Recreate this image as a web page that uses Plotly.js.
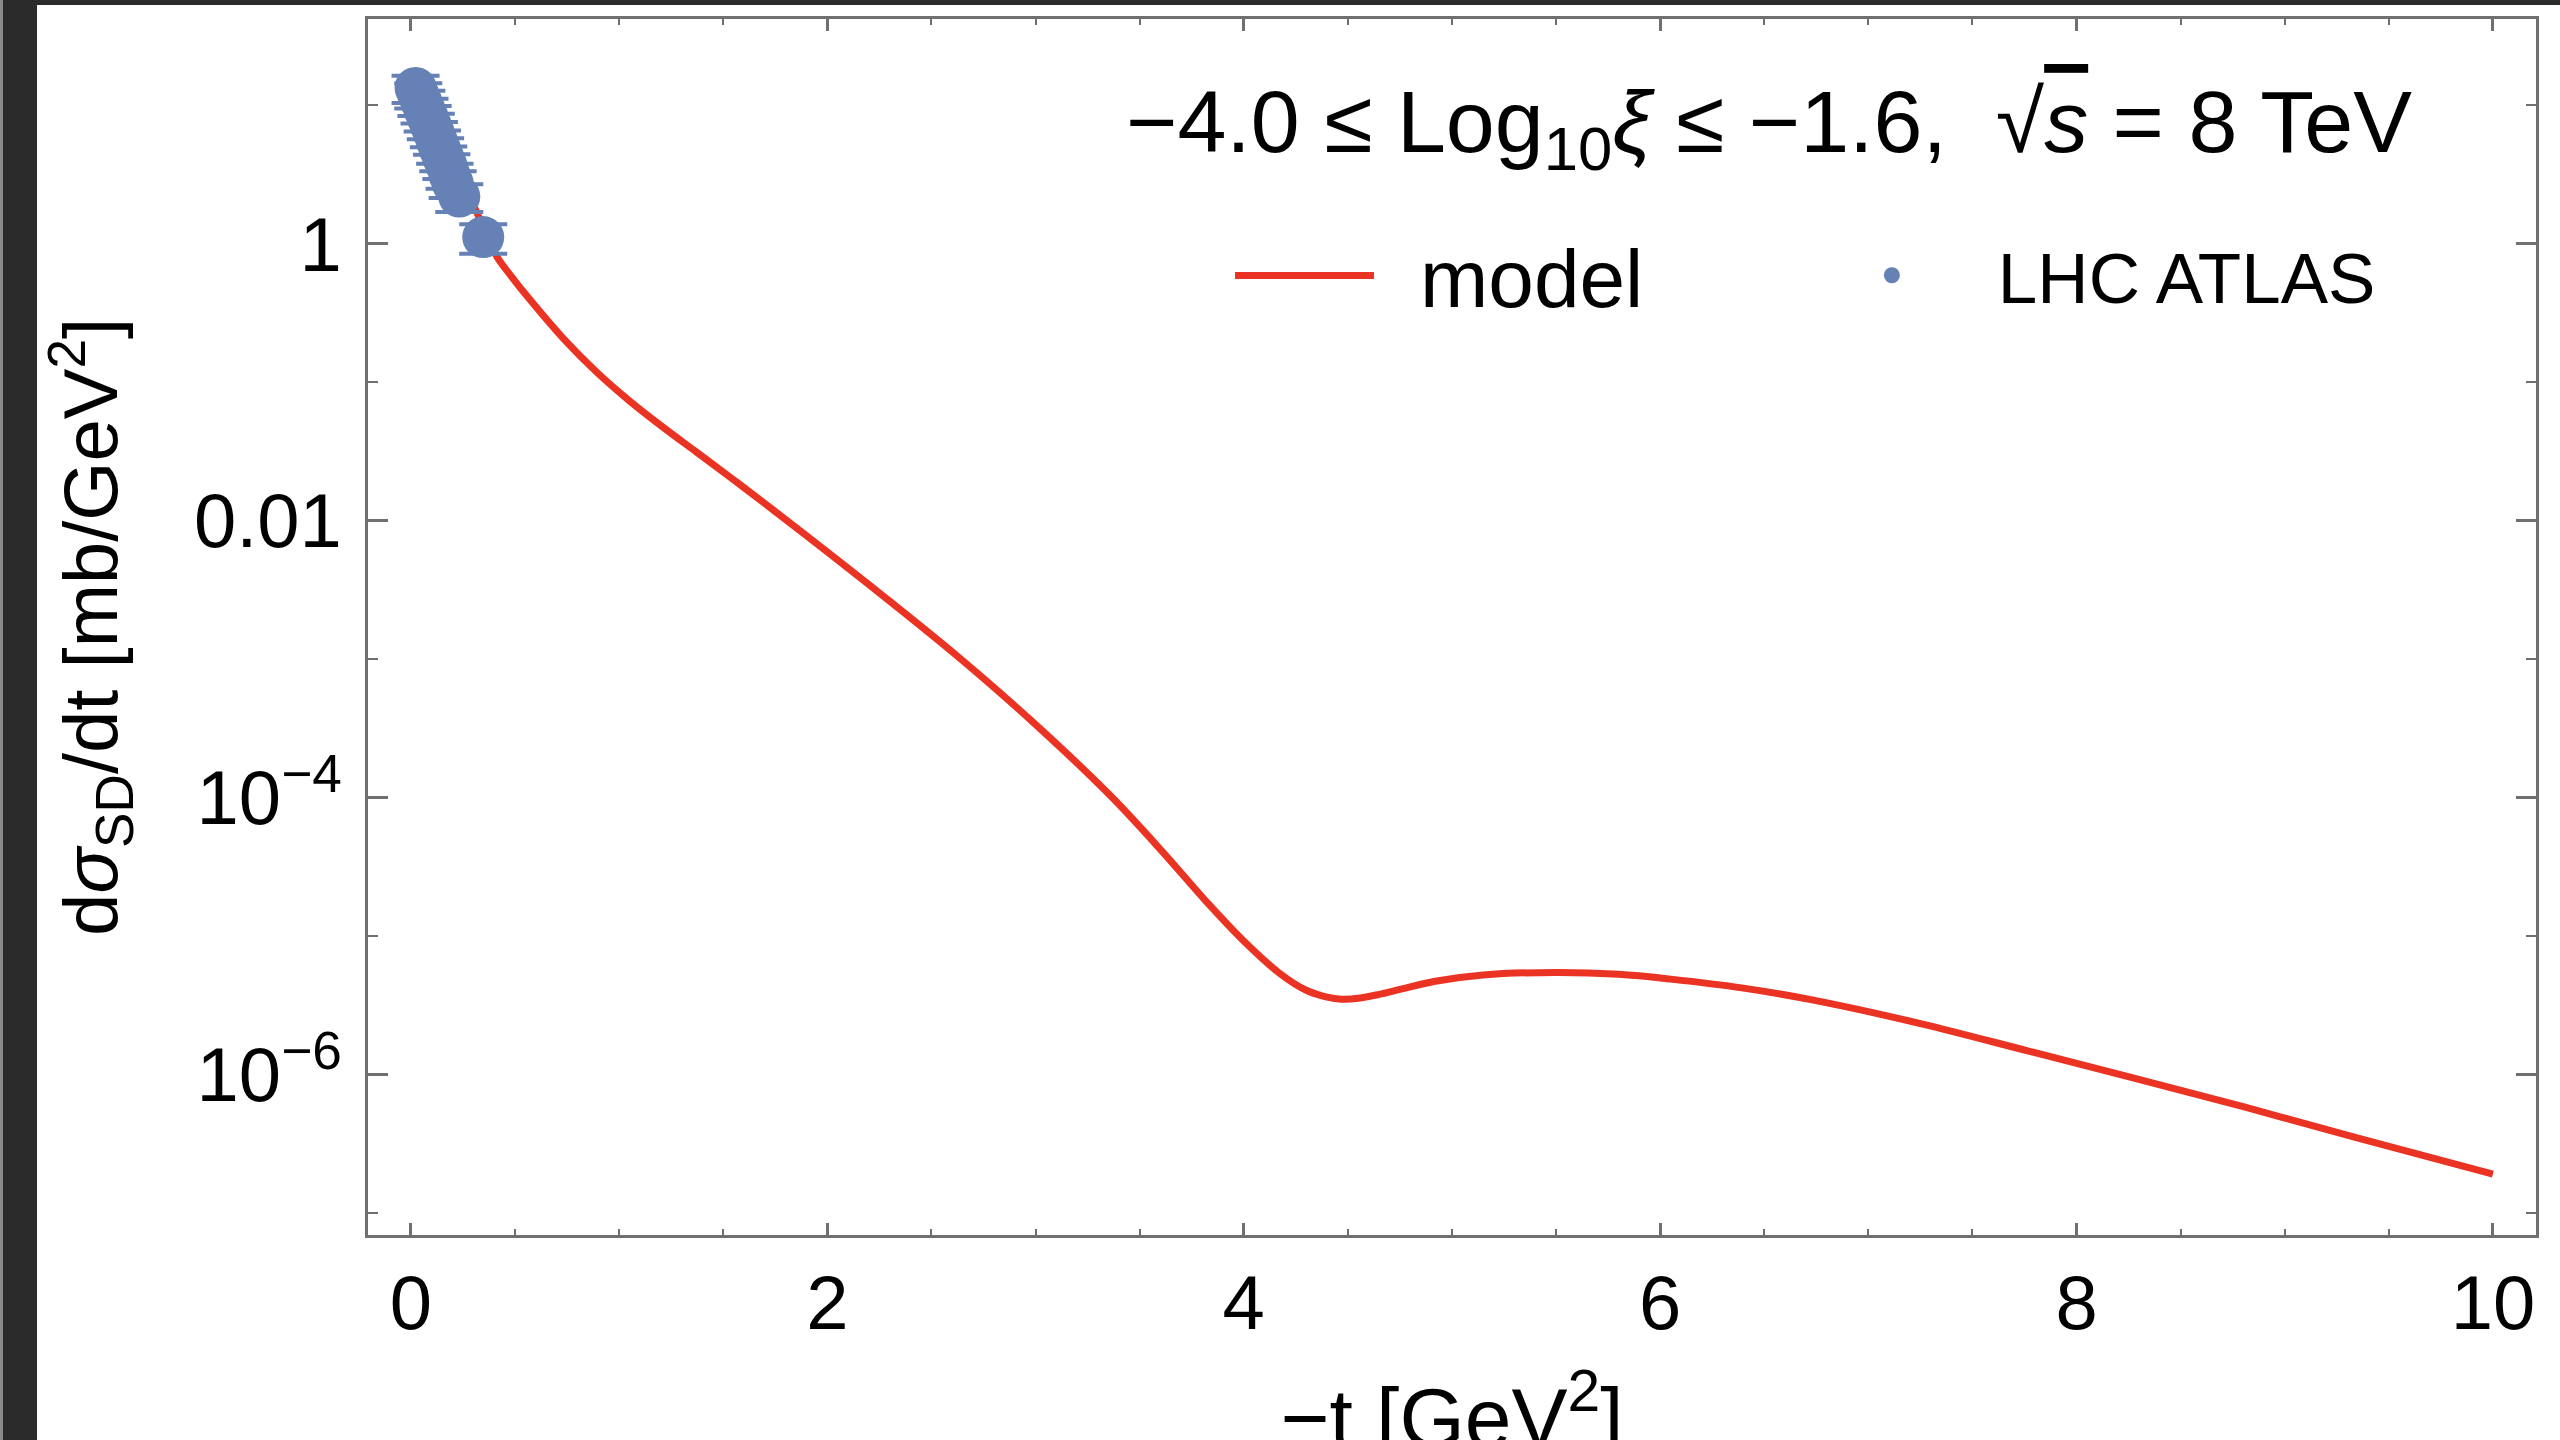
<!DOCTYPE html>
<html>
<head>
<meta charset="utf-8">
<script src="https://cdn.plot.ly/plotly-3.0.1.min.js"></script>
<style>
html, body { margin: 0; padding: 0; width: 2560px; height: 1440px; overflow: hidden; background: #2b2b2b; }
body { border-left: 3px solid #8a8a8a; box-sizing: border-box; position: relative; }
#chart { position: absolute; left: 34px; top: 5px; width: 2526px; height: 1540px; background: #ffffff; }
</style>
</head>
<body>
<div id="chart"></div>
<script>
// ---- model curve ----
const modelT = [0.02, 0.1, 0.2, 0.32, 0.41, 0.48, 0.57, 0.73, 0.89, 1.05, 1.21, 1.37, 1.53, 1.69, 1.88,
  2.25, 2.62, 2.99, 3.36, 3.61, 3.82, 3.99, 4.17, 4.30, 4.40, 4.47, 4.55, 4.65, 4.76, 4.92, 5.15, 5.50,
  5.80, 6.05, 6.40, 6.73, 7.25, 7.77, 8.29, 8.81, 9.33, 10.0];
const modelY = [15.5, 8.5, 4.0, 1.64, 0.822, 0.589, 0.398, 0.209, 0.1194, 0.07345, 0.04753, 0.03148, 0.02084, 0.01368, 0.00824,
  0.003013, 0.001067, 3.49e-4, 1.033e-4, 4.07e-5, 1.78e-5, 9.55e-6, 5.43e-6, 4.07e-6, 3.63e-6, 3.51e-6, 3.56e-6, 3.80e-6, 4.17e-6, 4.73e-6, 5.25e-6, 5.47e-6,
  5.31e-6, 4.90e-6, 4.22e-6, 3.47e-6, 2.34e-6, 1.48e-6, 9.33e-7, 5.82e-7, 3.55e-7, 1.91e-7];

// ---- LHC ATLAS data points ----
const atlasT = [0.022, 0.035, 0.050, 0.065, 0.080, 0.095, 0.110, 0.125, 0.140, 0.155, 0.170, 0.185, 0.200, 0.232, 0.347];
const atlasY = [13.4, 12.0, 10.6, 9.3, 8.2, 7.2, 6.3, 5.5, 4.8, 4.2, 3.7, 3.15, 2.75, 2.2, 1.12];
const atlasErr = [3.0, 2.5, 2.2, 1.9, 1.7, 1.5, 1.3, 1.1, 1.0, 0.85, 0.75, 0.65, 0.6, 0.5, 0.27];

// ---- ticks ----
const xTickVals = [0, 2, 4, 6, 8, 10];
const xTickText = ['0', '2', '4', '6', '8', '10'];
const xMinorVals = [0.5, 1, 1.5, 2.5, 3, 3.5, 4.5, 5, 5.5, 6.5, 7, 7.5, 8.5, 9, 9.5];
const yTickVals = [1, 0.01, 1e-4, 1e-6];
const yTickText = ['1', '0.01', '10<sup>−4</sup>', '10<sup>−6</sup>'];
const yMinorVals = [10, 0.1, 1e-3, 1e-5, 1e-7];

// ---- labels ----
const xTitle = '−t [GeV<sup>2</sup>]';
const yTitle = 'd<i>σ</i><sub>SD</sub>/dt [mb/GeV<sup>2</sup>]';
const rangeLabel = '−4.0 ≤ Log<sub>10</sub><i>ξ</i> ≤ −1.6,  √<span style="text-decoration:overline"><i>s</i></span> = 8 TeV';
const modelName = '\u2002model';
const dataName = 'LHC ATLAS';

const FONT = 'Liberation Sans, Arial, Helvetica, sans-serif';
const AXC = '#707070';
const RED = '#eb3323';
const BLUE = '#6581b5';

const traces = [
  {
    x: modelT, y: modelY, type: 'scatter', mode: 'lines', name: modelName,
    line: { color: RED, width: 7, shape: 'spline', smoothing: 1 },
    legend: 'legend'
  },
  {
    x: atlasT, y: atlasY, type: 'scatter', mode: 'markers', name: dataName,
    marker: { color: BLUE, size: 42, line: { width: 0 } },
    error_y: { type: 'data', array: atlasErr, visible: true, color: BLUE, thickness: 4, width: 24 },
    legend: 'legend2'
  }
];

const layout = {
  width: 2526, height: 1540,
  margin: { l: 331, r: 27, t: 11, b: 310 },
  paper_bgcolor: '#ffffff', plot_bgcolor: '#ffffff',
  font: { family: FONT, color: '#000000', size: 76 },
  showlegend: true,
  xaxis: {
    range: [-0.2065, 10.207], autorange: false,
    tickmode: 'array', tickvals: xTickVals, ticktext: xTickText,
    ticks: 'inside', ticklen: 12, tickwidth: 3, tickcolor: AXC,
    showline: true, linecolor: AXC, linewidth: 3, mirror: 'allticks',
    showgrid: false, zeroline: false,
    tickfont: { family: FONT, size: 76, color: '#000' },
    ticklabelstandoff: 0,
    minor: { tickmode: 'array', tickvals: xMinorVals, ticks: 'inside', ticklen: 6, tickwidth: 2, tickcolor: AXC, showgrid: false },
    title: { text: xTitle, font: { family: FONT, size: 84, color: '#000' }, standoff: 44 },
    automargin: true
  },
  yaxis: {
    type: 'log', range: [-7.158, 1.6246], autorange: false,
    tickmode: 'array', tickvals: yTickVals, ticktext: yTickText,
    ticks: 'inside', ticklen: 20, tickwidth: 3, tickcolor: AXC,
    showline: true, linecolor: AXC, linewidth: 3, mirror: 'allticks',
    showgrid: false, zeroline: false,
    tickfont: { family: FONT, size: 76, color: '#000' },
    ticklabelstandoff: 8,
    minor: { tickmode: 'array', tickvals: yMinorVals, ticks: 'inside', ticklen: 10, tickwidth: 2, tickcolor: AXC, showgrid: false },
    title: { text: yTitle, font: { family: FONT, size: 76, color: '#000' }, standoff: 70 },
    automargin: true
  },
  legend: {
    x: 0.3976, y: 0.789, xanchor: 'left', yanchor: 'middle',
    orientation: 'h', itemwidth: 139, bgcolor: 'rgba(0,0,0,0)', borderwidth: 0,
    font: { family: FONT, size: 82, color: '#000' }
  },
  legend2: {
    x: 0.654, y: 0.789, xanchor: 'left', yanchor: 'middle',
    orientation: 'h', itemwidth: 202, bgcolor: 'rgba(0,0,0,0)', borderwidth: 0,
    font: { family: FONT, size: 71, color: '#000' }
  },
  annotations: [
    {
      text: rangeLabel, xref: 'paper', yref: 'paper', x: 0.6462, y: 0.911,
      xanchor: 'center', yanchor: 'middle', showarrow: false,
      font: { family: FONT, size: 88, color: '#000' }
    }
  ]
};

Plotly.newPlot('chart', traces, layout, { displayModeBar: false, responsive: false });
</script>
</body>
</html>
